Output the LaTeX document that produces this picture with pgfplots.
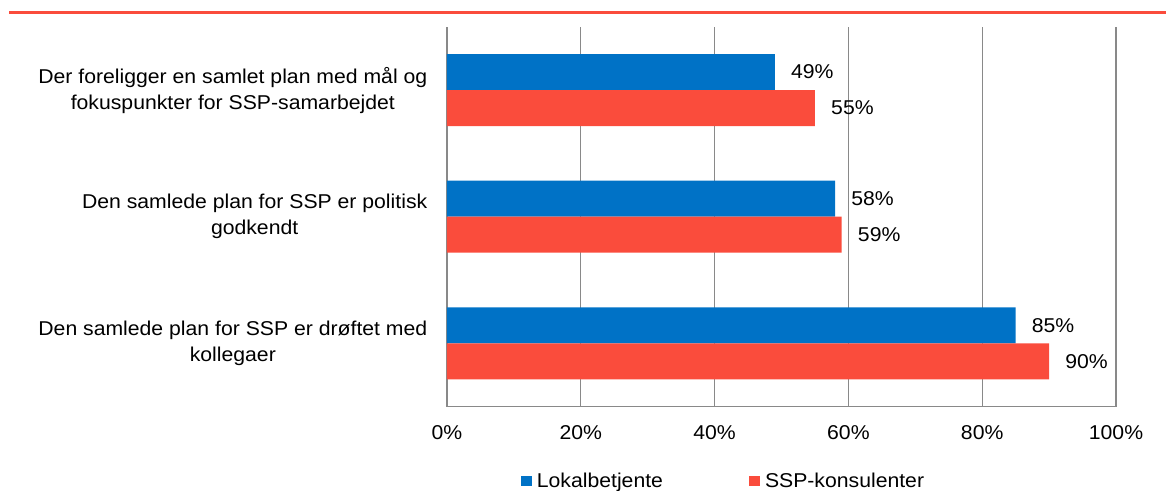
\documentclass[border=0pt]{standalone}
\usepackage{fontspec}
\setmainfont{Liberation Sans}[FakeStretch=1.06]
\usepackage{pgfplots}
\pgfplotsset{compat=1.18}

\definecolor{barblue}{RGB}{0,114,198}
\definecolor{barred}{RGB}{250,76,60}
\definecolor{gridgray}{RGB}{137,137,137}

\newcommand\chartfont{\fontsize{15}{19.5}\selectfont}

\begin{document}
\begin{tikzpicture}
  % page frame: 1167 x 491 units of 0.75pt
  \useasboundingbox (0pt,0pt) rectangle (875.25pt,368.25pt);
  % red rule across the top
  \draw[barred, line width=2.25pt] (6.75pt,358.5pt) -- (874.5pt,358.5pt);

  \begin{axis}[
    at={(335.25pt,63.2pt)}, anchor=south west,
    scale only axis, width=501.75pt, height=285pt,
    xbar, bar width=27pt,
    xmin=0, xmax=100,
    ymin=-0.5, ymax=2.5,
    xtick={0,20,40,60,80,100},
    xticklabels={0\%,20\%,40\%,60\%,80\%,100\%},
    ytick={0,1,2},
    yticklabels={
      {Den samlede plan for SSP er drøftet med\\kollegaer},
      {Den samlede plan for SSP er politisk\\godkendt},
      {Der foreligger en samlet plan med mål og\\fokuspunkter for SSP-samarbejdet}},
    major tick length=0pt,
    axis x line*=bottom, axis y line*=left,
    axis line style={-, draw=gridgray, line width=1pt},
    xmajorgrids, major grid style={draw=gridgray, line width=1pt},
    ymajorgrids=false,
    tick label style={font=\chartfont, text=black},
    xticklabel style={anchor=center, yshift=-19.7pt, inner sep=0pt},
    yticklabel style={anchor=east, xshift=-14.6pt, inner sep=0pt, align=center},
    nodes near coords={\pgfmathprintnumber[assume math mode=true]{\pgfplotspointmeta}\%},
    nodes near coords style={font=\chartfont, text=black, anchor=west, xshift=12pt, inner sep=0pt},
    clip=false,
    legend columns=2,
    legend style={at={(0.4118,-0.1955)}, anchor=center, draw=none, fill=none,
      font=\chartfont, inner sep=0pt, nodes={inner sep=0pt},
      /tikz/every odd column/.append style={column sep=3.75pt},
      /tikz/every even column/.append style={column sep=64.5pt}},
    legend image code/.code={\fill[#1] (0pt,-4.1pt) rectangle (8.25pt,4.1pt);},
  ]
    \addplot[fill=barblue, draw=none, bar shift=13.5pt]
      coordinates {(49,2) (58,1) (85,0)};
    \addplot[fill=barred, draw=none, bar shift=-13.5pt]
      coordinates {(55,2) (59,1) (90,0)};
    \legend{Lokalbetjente, SSP-konsulenter}
  \end{axis}
\end{tikzpicture}
\end{document}
